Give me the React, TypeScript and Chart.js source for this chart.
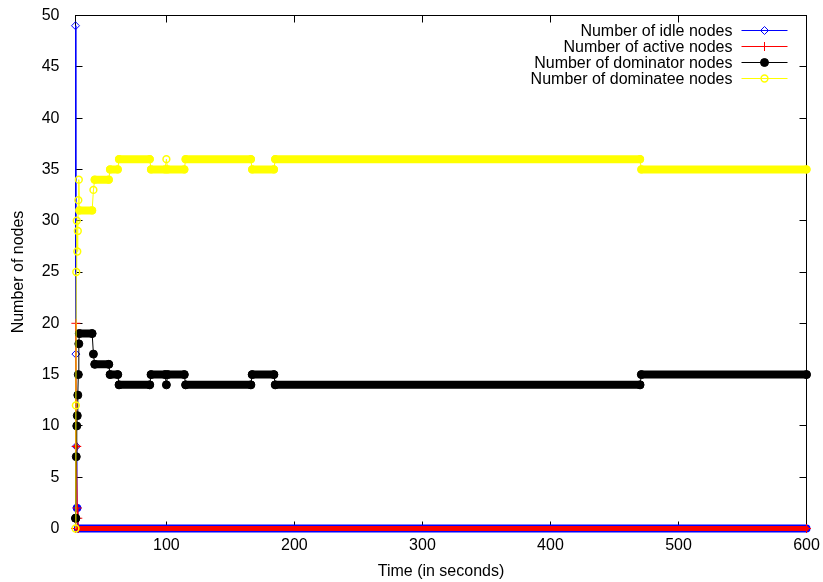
import React, { useEffect, useRef } from 'react';
import { Chart, registerables } from 'chart.js';

Chart.register(...registerables);

const FONT_FAMILY = '"Liberation Sans", Arial, Helvetica, sans-serif';

// Each run keeps a constant state from runStart[i] to runEnd[i] (seconds)
const runStart = [29, 29.3, 29.6, 30, 30.4, 30.8, 31.2, 31.6, 32, 43, 44, 56, 63, 88, 100, 101, 115, 167, 185, 471];
const runEnd = [29, 29.3, 29.6, 30, 30.4, 30.8, 31.2, 31.6, 42, 43, 55, 62, 87, 99, 100, 114, 166, 184, 470, 600];
const idleNodes = [49, 17, 8, 2, 2, 0, 0, 0, 0, 0, 0, 0, 0, 0, 0, 0, 0, 0, 0, 0];
const activeNodes = [0, 20, 8, 8, 2, 1, 0, 0, 0, 0, 0, 0, 0, 0, 0, 0, 0, 0, 0, 0];
const dominatorNodes = [1, 1, 7, 10, 11, 13, 15, 18, 19, 17, 16, 15, 14, 15, 14, 15, 14, 15, 14, 15];
const dominateeNodes = [0, 12, 25, 30, 27, 29, 32, 34, 31, 33, 34, 35, 36, 35, 36, 35, 36, 35, 36, 35];

const xTickValues = [100, 200, 300, 400, 500, 600];
const yTickValues = [0, 5, 10, 15, 20, 25, 30, 35, 40, 45, 50];
const X_MIN = 29;
const X_MAX = 600;
const Y_MIN = 0;
const Y_MAX = 50;
const xTitle = 'Time (in seconds)';
const yTitle = 'Number of nodes';

type Run = { s: number; e: number; v: number };

function runsOf(values: number[]): Run[] {
  const out: Run[] = [];
  values.forEach((v, i) => {
    const last = out[out.length - 1];
    if (last && last.v === v) last.e = runEnd[i];
    else out.push({ s: runStart[i], e: runEnd[i], v });
  });
  return out;
}

type SeriesDef = {
  label: string;
  values: number[];
  color: string;
  pointStyle: string;
  radius: number;
  filled: boolean;
  band: number;
  ptBorder: number;
};

const seriesDefs: SeriesDef[] = [
  { label: 'Number of idle nodes', values: idleNodes, color: '#0000ff', pointStyle: 'rectRot', radius: 4, filled: false, band: 8, ptBorder: 1 },
  { label: 'Number of active nodes', values: activeNodes, color: '#ff0000', pointStyle: 'cross', radius: 4.5, filled: false, band: 5, ptBorder: 1 },
  { label: 'Number of dominator nodes', values: dominatorNodes, color: '#000000', pointStyle: 'circle', radius: 4, filled: true, band: 8, ptBorder: 1 },
  { label: 'Number of dominatee nodes', values: dominateeNodes, color: '#ffff00', pointStyle: 'circle', radius: 3.4, filled: false, band: 8, ptBorder: 1.5 },
];

function buildDatasets() {
  const sets: any[] = [];
  seriesDefs.forEach((s, i) => {
    const runs = runsOf(s.values);
    const base = (seriesDefs.length - 1 - i) * 3;
    const thin: any[] = [];
    const band: any[] = [];
    const marks: any[] = [];
    runs.forEach((r) => {
      thin.push({ x: r.s, y: r.v });
      marks.push({ x: r.s, y: r.v });
      if (r.e > r.s) {
        thin.push({ x: r.e, y: r.v });
        marks.push({ x: r.e, y: r.v });
        band.push({ x: r.s, y: r.v }, { x: r.e, y: r.v }, { x: r.e, y: null });
      }
    });
    sets.push({
      label: s.label + ' line',
      data: thin,
      borderColor: s.color,
      borderWidth: 1,
      pointRadius: 0,
      clip: false,
      order: base + 2,
    });
    sets.push({
      label: s.label + ' band',
      data: band,
      borderColor: s.color,
      borderWidth: s.band,
      borderCapStyle: 'round',
      borderJoinStyle: 'round',
      pointRadius: 0,
      spanGaps: false,
      clip: false,
      order: base + 1,
    });
    sets.push({
      label: s.label,
      data: marks,
      showLine: false,
      pointStyle: s.pointStyle,
      pointRadius: s.radius,
      pointBorderColor: s.color,
      pointBackgroundColor: s.filled ? s.color : 'rgba(0,0,0,0)',
      pointBorderWidth: s.ptBorder,
      borderColor: s.color,
      clip: false,
      order: base,
    });
  });
  return sets;
}

function drawMarker(ctx: CanvasRenderingContext2D, s: SeriesDef, x: number, y: number) {
  const r = s.radius;
  ctx.save();
  ctx.strokeStyle = s.color;
  ctx.fillStyle = s.color;
  ctx.lineWidth = s.ptBorder;
  ctx.beginPath();
  if (s.pointStyle === 'rectRot') {
    ctx.moveTo(x, y - r);
    ctx.lineTo(x + r, y);
    ctx.lineTo(x, y + r);
    ctx.lineTo(x - r, y);
    ctx.closePath();
    ctx.stroke();
  } else if (s.pointStyle === 'cross') {
    ctx.moveTo(x - r, y);
    ctx.lineTo(x + r, y);
    ctx.moveTo(x, y - r);
    ctx.lineTo(x, y + r);
    ctx.stroke();
  } else {
    ctx.arc(x, y, r, 0, Math.PI * 2);
    if (s.filled) ctx.fill();
    ctx.stroke();
  }
  ctx.restore();
}

const framePlugin = {
  id: 'gnuplotFrame',
  beforeDatasetsDraw(chart: any) {
    const { ctx, chartArea: a, scales } = chart;
    const tick = 7;
    ctx.save();
    ctx.strokeStyle = '#000';
    ctx.lineWidth = 1;
    ctx.beginPath();
    yTickValues.forEach((v) => {
      const y = Math.round(scales.y.getPixelForValue(v) - 0.5) + 0.5;
      ctx.moveTo(a.left, y);
      ctx.lineTo(a.left + tick, y);
      ctx.moveTo(a.right, y);
      ctx.lineTo(a.right - tick, y);
    });
    xTickValues.forEach((v) => {
      const x = Math.round(scales.x.getPixelForValue(v) - 0.5) + 0.5;
      ctx.moveTo(x, a.bottom);
      ctx.lineTo(x, a.bottom - tick);
      ctx.moveTo(x, a.top);
      ctx.lineTo(x, a.top + tick);
    });
    ctx.stroke();
    ctx.strokeRect(a.left, a.top, a.right - a.left, a.bottom - a.top);
    ctx.restore();
  },
};

const keyPlugin = {
  id: 'gnuplotKey',
  afterDatasetsDraw(chart: any) {
    const ctx: CanvasRenderingContext2D = chart.ctx;
    const a = chart.chartArea;
    ctx.save();
    ctx.font = `16px ${FONT_FAMILY}`;
    ctx.textAlign = 'right';
    ctx.textBaseline = 'middle';
    seriesDefs.forEach((s, i) => {
      const y = a.top + 15 + i * 16;
      ctx.fillStyle = '#000';
      ctx.fillText(s.label, a.right - 74, y + 1);
      ctx.strokeStyle = s.color;
      ctx.lineWidth = 1;
      ctx.beginPath();
      ctx.moveTo(a.right - 65, y);
      ctx.lineTo(a.right - 19, y);
      ctx.stroke();
      drawMarker(ctx, s, a.right - 42, y);
    });
    ctx.restore();
  },
};

function zeroScalePadding(scale: any) {
  scale.paddingTop = 0;
  scale.paddingBottom = 0;
  scale.paddingLeft = 0;
  scale.paddingRight = 0;
}

export default function App() {
  const ref = useRef<HTMLCanvasElement>(null);
  useEffect(() => {
    if (!ref.current) return;
    const chart = new Chart(ref.current, {
      type: 'line',
      data: { datasets: buildDatasets() },
      plugins: [framePlugin, keyPlugin],
      options: {
        responsive: false,
        animation: false,
        events: [],
        layout: { padding: { top: 15.5, right: 16.5, left: 0, bottom: 0 } },
        font: { family: FONT_FAMILY, size: 16 },
        plugins: {
          legend: { display: false },
          tooltip: { enabled: false },
        },
        scales: {
          x: {
            type: 'linear',
            min: X_MIN,
            max: X_MAX,
            afterBuildTicks: (scale: any) => {
              scale.ticks = xTickValues.map((v) => ({ value: v }));
            },
            afterFit: (scale: any) => {
              scale.height = 53.5;
              zeroScalePadding(scale);
            },
            grid: { display: false, drawTicks: false },
            border: { display: false },
            ticks: { color: '#000', font: { family: FONT_FAMILY, size: 16 }, padding: 7, maxRotation: 0, autoSkip: false },
            title: { display: true, text: xTitle, color: '#000', font: { family: FONT_FAMILY, size: 16 }, padding: { top: 0, bottom: 0.5 } },
          },
          y: {
            type: 'linear',
            min: Y_MIN,
            max: Y_MAX,
            afterBuildTicks: (scale: any) => {
              scale.ticks = yTickValues.map((v) => ({ value: v }));
            },
            afterFit: (scale: any) => {
              scale.width = 75.5;
              zeroScalePadding(scale);
            },
            grid: { display: false, drawTicks: false },
            border: { display: false },
            ticks: { color: '#000', font: { family: FONT_FAMILY, size: 16 }, padding: 16, autoSkip: false },
            title: { display: true, text: yTitle, color: '#000', font: { family: FONT_FAMILY, size: 16 }, padding: { top: 8.5, bottom: 0 } },
          },
        },
      } as any,
    });
    return () => chart.destroy();
  }, []);
  return (
    <div style={{ position: 'absolute', left: 0, top: 0, width: 823, height: 582, background: '#fff' }}>
      <canvas ref={ref} width={823} height={582} style={{ display: 'block' }} />
    </div>
  );
}
